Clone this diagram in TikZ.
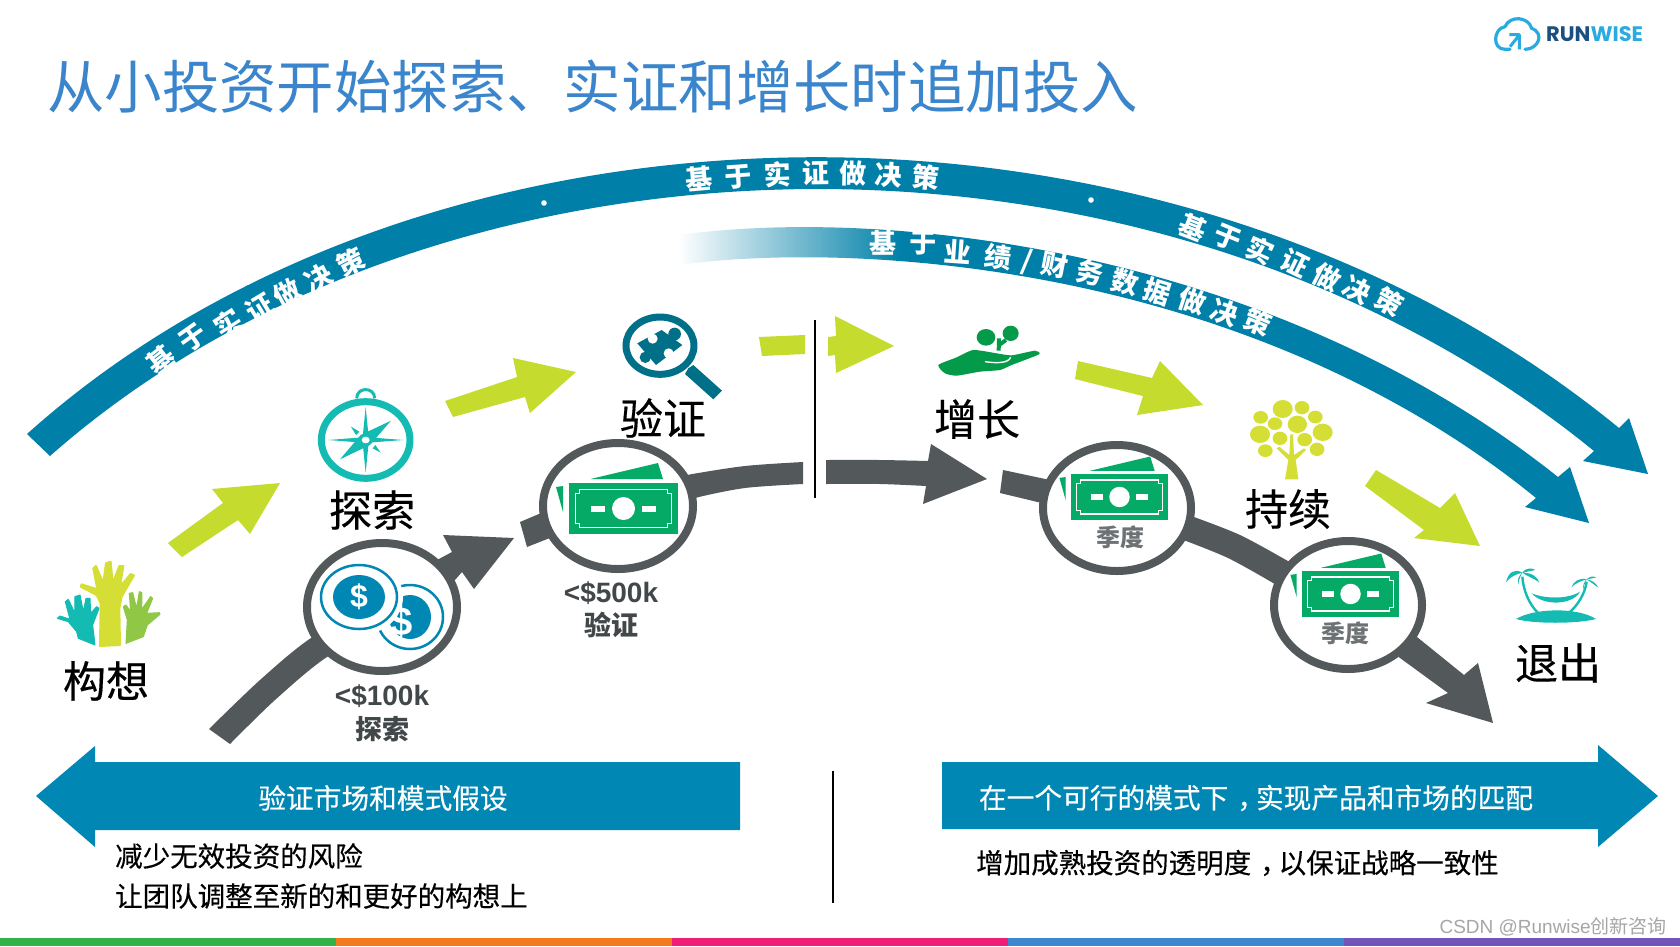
\documentclass[tikz,border=0pt]{standalone}
\usepackage{fontspec}
\setmainfont{Noto Sans CJK SC}
\newfontfamily\latinb[BoldFont={Liberation Sans Bold}]{Liberation Sans}
\newfontfamily\logofont{Poppins}
\newfontfamily\cjkm[FakeBold=0.35]{Noto Sans CJK SC}
\usetikzlibrary{calc}
\definecolor{bandc}{HTML}{0080A8}
\definecolor{barc}{HTML}{0087B4}
\definecolor{limec}{HTML}{C5DB2E}
\definecolor{greyc}{HTML}{53595B}
\definecolor{billc}{HTML}{05AA66}
\definecolor{titlec}{HTML}{3A85CB}
\definecolor{tealc}{HTML}{13BBB3}
\definecolor{magc}{HTML}{006F88}
\definecolor{treec}{HTML}{D5DE34}
\definecolor{handg}{HTML}{039A49}
\definecolor{handl}{HTML}{90C846}
\definecolor{logod}{HTML}{1B4F80}
\definecolor{logol}{HTML}{29ABE2}
\definecolor{stripa}{HTML}{31B34A}
\definecolor{stripb}{HTML}{F47A20}
\definecolor{stripc}{HTML}{EE1D78}
\definecolor{stripd}{HTML}{3C87CE}
\definecolor{stripe}{HTML}{7454B8}
\newcommand{\fsz}[1]{\fontsize{#1}{#1}\selectfont}
\newcommand{\slashglyph}{/}
\newcommand{\midcomma}{\makebox[1em][l]{\hspace{.33em}，}}
\newcommand{\billicon}[3]{%
 \begin{scope}[shift={(#1,#2)},scale=#3]
  \fill[billc] (-33,-29.5) -- (34.5,-45.5) -- (39.5,-29.5) -- cycle;
  \fill[billc] (-67.5,-21.5) -- (-60.5,-22.5) -- (-60.5,3.5) -- cycle;
  \fill[billc] (-54.5,-25.5) rectangle (54.5,25.5);
  \draw[white,line width=1.3pt] (-44,-19) -- (44,-19) -- (44,-15) -- (48,-15) -- (48,15) -- (44,15) -- (44,19) -- (-44,19) -- (-44,15) -- (-48,15) -- (-48,-15) -- (-44,-15) -- cycle;
  \fill[white] (0,0) ellipse (11.5 and 11.5);
  \fill[white] (-32.5,-3) rectangle (-18.5,3);
  \fill[white] (18.5,-3) rectangle (32.5,3);
 \end{scope}}
\tikzset{
 x=1pt,y=-1pt,
 ring/.style={draw=greyc,fill=white,line width=8pt},
 bandglyph/.style={text=white,font=\bfseries\fsz{27},inner sep=0pt},
 biglabel/.style={text=black,font=\cjkm\fsz{43},inner sep=0pt},
 barlabel/.style={text=white,font=\cjkm\fsz{27.7},inner sep=0pt},
 bodylabel/.style={text=black,font=\cjkm\fsz{27.5},inner sep=0pt,anchor=west},
 smalllabel/.style={text=greyc!80!black,inner sep=0pt,align=center},
 quarter/.style={text=greyc!85!white,font=\bfseries\fsz{24},inner sep=0pt}
}
\begin{document}
\begin{tikzpicture}
\useasboundingbox (0,0) rectangle (1680,946);
\fill[white] (0,0) rectangle (1680,946);
% bottom strip
\fill[stripa] (0,938) rectangle (336,946);
\fill[stripb] (336,938) rectangle (672,946);
\fill[stripc] (672,938) rectangle (1008,946);
\fill[stripd] (1008,938) rectangle (1344,946);
\fill[stripe] (1344,938) rectangle (1680,946);
% title
\node[text=titlec,font=\fsz{57.4},inner sep=0pt,anchor=west] (title) at (47,87) {从小投资开始探索、实证和增长时追加投入};
% logo
\begin{scope}[shift={(1460,0)},scale=.3333]
 \draw[logol,line width=3.2pt,line cap=round,line join=round] (195,148) .. controls (235,148) and (255,100) .. (215,85) .. controls (205,50) and (150,45) .. (135,80) .. controls (100,85) and (95,148) .. (135,148) -- (150,148);
 \draw[logol,line width=3pt,line join=round] (150,140) -- (178,105) (148,104) -- (178,104) -- (178,148);
\end{scope}
\node[inner sep=0pt,anchor=west,font=\logofont\bfseries\fsz{21}] (logo) at (1546,34) {\textcolor{logod}{RUN}\textcolor{logol}{WISE}};
% outer band
\fill[bandc] (27,434) .. controls (430,72) and (1170,60) .. (1619,428)
 -- (1629,418) -- (1648,474) -- (1583,461) -- (1594,451)
 .. controls (1150,90) and (440,112) .. (50,456) -- cycle;
\fill[white] (544,203) circle (2.8) (1091,200) circle (2.8);
% outer band text
\foreach \px/\py/\r/\c [count=\i] in {161/360/38/基,193/338/35/于,228/323/33/实,260/308/31/证,287/293/29/做,319/278/28/决,351/262/27/策,
 699/179/5/基,738/177/4/于,778/175/2/实,816/173/1/证,853/173/-1/做,889/175/-3/决,926/177/-5/策,
 1193/227/-21/基,1228/238/-22/于,1260/250/-24/实,1295/263/-26/证,1327/277/-27/做,1357/290/-28/决,1389/302/-29/策}
 \node[bandglyph,rotate=\r] (o\i) at (\px,\py) {\c};
% inner band
\begin{scope}
 \clip (678,235) .. controls (900,205) and (1280,255) .. (1558,477)
 -- (1570,467) -- (1589,523) -- (1525,507) -- (1536,498)
 .. controls (1250,265) and (860,240) .. (678,265) -- cycle;
 \fill[bandc] (900,200) rectangle (1620,540);
 \shade[left color=white,right color=bandc] (678,200) rectangle (901,300);
\end{scope}
\foreach \px/\py/\r/\c [count=\i] in {883/243/0/基,923/243/-1/于,958/252/-4/业,998/257/-7/绩,1027/262/-10/\slashglyph,1055/265/-11/财,1090/273/-13/务,1125/282/-15/数,1157/292/-17/据,1192/301/-18/做,1225/312/-20/决,1258/322/-22/策}
 \node[bandglyph,rotate=\r] (i\i) at (\px,\py) {\c};
% lime arrows
\fill[limec] (168,543) -- (223,503) -- (212,489) -- (280,483) -- (250,534) -- (238,520) -- (182,557) -- cycle;
\fill[limec] (445,401) -- (517,377) -- (513,358) -- (576,372) -- (530,413) -- (525,397) -- (453,417) -- cycle;
\fill[limec] (759,337) -- (805,335) -- (805,354) -- (762,356) -- cycle;
\fill[limec] (828,337) -- (836,336) -- (835,316) -- (894,346) -- (836,373) -- (835,355) -- (828,356) -- cycle;
\fill[limec] (1078,361) -- (1152,378) -- (1160,361) -- (1203,405) -- (1137,415) -- (1143,396) -- (1075,379) -- cycle;
\fill[limec] (1376,470) -- (1440,508) -- (1455,493) -- (1480,546) -- (1414,538) -- (1424,530) -- (1365,486) -- cycle;
% dividers
\draw[black,line width=1.5pt] (815,320) -- (815,498);
\draw[black,line width=1.5pt] (833,771) -- (833,903);
% grey path
\fill[greyc] plot[smooth] coordinates {(209,729) (260,680) (311,638) (380,600) (437,560)} -- (452,552) -- (443,535) -- (514,538) -- (474,589) -- (462,572) -- plot[smooth] coordinates {(455,580) (390,625) (327,657) (275,700) (230,744)} -- cycle;
\fill[greyc] (520,522) -- (560,505) -- (570,530) -- (527,547) -- cycle;
\fill[greyc] plot[smooth] coordinates {(660,482) (687,475) (745,466) (803,462)} -- (803,484) -- plot[smooth] coordinates {(803,484) (745,488) (695,498) (660,510)} -- cycle;
\fill[greyc] plot[smooth] coordinates {(826,460) (880,460) (928,461)} -- (931,444) -- (987,479) -- (923,504) -- (926,486) -- plot[smooth] coordinates {(926,486) (880,484) (826,484)} -- cycle;
\fill[greyc] (1003,470) -- (1050,480) -- (1050,505) -- (1000,493) -- cycle;
\fill[greyc] plot[smooth] coordinates {(1180,512) (1240,535) (1300,568)} -- plot[smooth] coordinates {(1285,590) (1228,558) (1170,535)} -- cycle;
\fill[greyc] (1395,620) -- (1417,637) -- (1464,675) -- (1478,663) -- (1493,723) -- (1426,703) -- (1448,693) -- (1400,658) -- (1380,640) -- cycle;
% lens circles
\draw[ring] (382,607) ellipse (75 and 64);
\draw[ring] (618,506) ellipse (75 and 63);
\draw[ring] (1117,508) ellipse (74 and 63);
\draw[ring] (1348,605) ellipse (74 and 64);
% coins
\draw[barc,line width=2.5pt] (410,617) ellipse (33 and 32);
\fill[barc] (410,617) ellipse (21 and 22);
\node[inner sep=0pt,text=white,font=\latinb\bfseries\fsz{40}] (coinb) at (402,622) {\$};
\fill[white] (359,597) ellipse (44 and 38);
\draw[barc,line width=2.5pt] (359,597) ellipse (38 and 32);
\fill[barc] (359,597) ellipse (26 and 22);
\node[inner sep=0pt,text=white,font=\latinb\bfseries\fsz{32}] (coinf) at (359,597) {\$};
% bills
\billicon{623.5}{508.5}{1}
\billicon{1119.5}{497}{.89}
\billicon{1350.5}{594}{.89}
\node[quarter] (q1) at (1120,537) {季度};
\node[quarter] (q2) at (1345,633) {季度};
% amounts
\node[smalllabel,font=\latinb\bfseries\fsz{28}] (a1) at (382,696) {<\$100k};
\node[smalllabel,font=\bfseries\fsz{27}] (a1b) at (382,729) {探索};
\node[smalllabel,font=\latinb\bfseries\fsz{28}] (a2) at (611,593) {<\$500k};
\node[smalllabel,font=\bfseries\fsz{27}] (a2b) at (611,625) {验证};
% big labels
\node[biglabel] (l1) at (106,681) {构想};
\node[biglabel] (l2) at (372,510) {探索};
\node[biglabel] (l3) at (663,418) {验证};
\node[biglabel] (l4) at (977,419) {增长};
\node[biglabel] (l5) at (1288,509) {持续};
\node[biglabel] (l6) at (1558,663) {退出};
% bottom bars
\fill[barc] (36,796) -- (95,746) -- (95,762) -- (740,762) -- (740,830) -- (95,830) -- (95,847) -- cycle;
\fill[barc] (942,762) -- (1598,762) -- (1598,745) -- (1658,796) -- (1598,847) -- (1598,829) -- (942,829) -- cycle;
\node[barlabel] (b1) at (383,798) {验证市场和模式假设};
\node[barlabel] (b2) at (1256,798) {在一个可行的模式下\midcomma 实现产品和市场的匹配};
\node[bodylabel] (t1) at (115,856) {减少无效投资的风险};
\node[bodylabel] (t2) at (115,896) {让团队调整至新的和更好的构想上};
\node[bodylabel] (t3) at (976,863) {增加成熟投资的透明度\midcomma 以保证战略一致性};
% watermark
\node[inner sep=0pt,anchor=east,text=black!35,font=\fsz{19}] (wm) at (1667,927) {{\latinb CSDN @Runwise}创新咨询};
% compass
\begin{scope}[shift={(290,380)},scale=.3333]
 \draw[tealc,line width=7pt] (227,180) ellipse (133 and 115);
 \draw[tealc,line width=3pt] (200,55) .. controls (200,20) and (254,20) .. (254,55);
 \fill[tealc] (227,80) -- (236,172) -- (340,180) -- (236,188) -- (227,278) -- (218,188) -- (115,180) -- (218,172) -- cycle;
 \fill[tealc] (303,122) -- (240,195) -- (150,238) -- (212,165) -- cycle;
 \fill[tealc] (183,140) -- (208,155) -- (198,165) -- cycle (272,218) -- (248,205) -- (256,195) -- cycle;
 \fill[white] (227,180) ellipse (12 and 10);
\end{scope}
% magnifier
\begin{scope}[shift={(520,300)},scale=.3333]
 \draw[magc,line width=7pt] (420,137) ellipse (102 and 86);
 \fill[magc] (505,205) -- (520,195) -- (606,272) -- (580,298) -- (495,222) -- cycle;
 \fill[magc] (425,90) -- (487,135) -- (408,195) -- (352,130) -- cycle;
 \fill[magc] (464,102) circle (19) (376,172) circle (17);
 \fill[white] (398,116) circle (15) (446,160) circle (15);
\end{scope}
% hand
\begin{scope}[shift={(920,310)},scale=.3333]
 \fill[handg] plot[smooth cycle,tension=.35] coordinates {(55,165) (110,142) (160,120) (230,130) (275,136) (345,122) (357,133) (275,165) (240,180) (180,185) (110,197) (75,190)};
 \draw[white,line width=1.4pt] (195,155) .. controls (230,160) and (265,160) .. (272,142);
 \fill[handg] (198,82) ellipse (28 and 25) (272,70) ellipse (24 and 23);
 \draw[handg,line width=4pt] (236,122) -- (237,85) (237,105) -- (258,90);
\end{scope}
% tree
\begin{scope}[shift={(1230,390)},scale=.3333]
 \foreach \cx/\cy/\rx/\ry in {158/57/30/27,216/53/22/20,92/82/22/19,256/81/22/19,135/101/22/19,202/103/29/26,90/133/30/26,278/127/30/26,150/145/22/20,224/149/22/20,106/182/22/19,261/178/22/20}
  \fill[treec] (\cx,\cy) ellipse [x radius=\rx,y radius=\ry];
 \fill[treec] (165,268) -- (175,210) -- (140,175) -- (148,170) -- (178,195) -- (181,133) -- (189,133) -- (192,195) -- (222,175) -- (228,180) -- (197,210) -- (205,268) -- cycle;
\end{scope}
% hands
\begin{scope}[shift={(40,550)},scale=.3333]
 \fill[tealc,draw=tealc,line width=1pt,line join=round] (52,205) -- (60,198) -- (90,208) -- (76,155) -- (85,148) -- (105,190) -- (105,140) -- (120,135) -- (130,185) -- (138,145) -- (150,145) -- (152,190) -- (170,170) -- (177,175) -- (158,225) -- (165,285) -- (115,265) -- (110,245) -- (85,215) -- cycle;
 \fill[handl,draw=handl,line width=1pt,line join=round] (258,280) -- (262,210) -- (250,170) -- (258,165) -- (272,185) -- (268,130) -- (278,128) -- (290,175) -- (298,125) -- (306,128) -- (305,178) -- (332,140) -- (338,145) -- (320,190) -- (358,188) -- (360,193) -- (322,225) -- (310,260) -- cycle;
 \fill[treec,draw=treec,line width=2pt,line join=round] (180,288) -- (182,160) -- (170,135) -- (122,110) -- (125,103) -- (172,118) -- (160,55) -- (168,48) -- (190,100) -- (198,40) -- (212,35) -- (218,100) -- (238,48) -- (250,48) -- (240,110) -- (272,72) -- (282,76) -- (245,140) -- (238,175) -- (240,285) -- cycle;
\end{scope}
% island
\begin{scope}[shift={(1490,550)},scale=.3333]
 \fill[tealc] (78,207) .. controls (130,175) and (260,170) .. (318,207) .. controls (260,222) and (130,222) .. (78,207) -- cycle;
 \draw[tealc,line width=2.4pt] (97,80) .. controls (100,120) and (115,160) .. (145,190);
 \draw[tealc,line width=2.4pt] (290,95) .. controls (285,130) and (265,165) .. (235,190);
 \fill[tealc] (125,130) .. controls (160,145) and (230,150) .. (270,125) .. controls (250,165) and (160,170) .. (125,130) -- cycle;
 \fill[tealc] (97,68) .. controls (75,55) and (55,65) .. (48,97) .. controls (60,80) and (80,72) .. (97,68)
  .. controls (110,50) and (130,55) .. (136,60) .. controls (125,62) and (112,65) .. (97,68)
  .. controls (125,68) and (142,80) .. (148,97) .. controls (130,85) and (110,78) .. (97,68)
  .. controls (90,80) and (85,95) .. (85,105) .. controls (82,90) and (85,78) .. (97,68) -- cycle;
 \fill[tealc] (290,88) .. controls (268,82) and (250,95) .. (244,112) .. controls (255,100) and (275,92) .. (290,88)
  .. controls (300,78) and (312,78) .. (318,83) .. controls (308,85) and (298,86) .. (290,88)
  .. controls (305,90) and (320,100) .. (325,113) .. controls (312,103) and (300,95) .. (290,88)
  .. controls (285,98) and (280,110) .. (280,120) .. controls (277,108) and (282,95) .. (290,88) -- cycle;
\end{scope}
\end{tikzpicture}
\end{document}
